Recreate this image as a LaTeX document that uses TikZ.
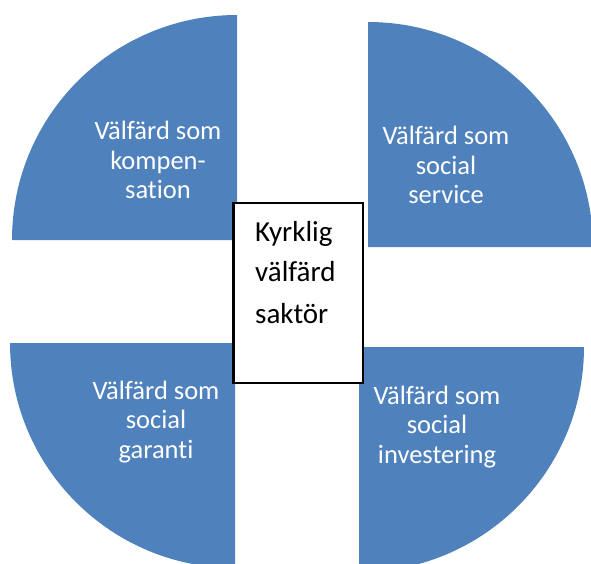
\documentclass[tikz,border=0pt]{standalone}
\usepackage{fontspec}
\setmainfont[Ligatures=NoCommon]{Carlito}
\definecolor{qblue}{HTML}{4F81BD}
\begin{document}
\begin{tikzpicture}[x=1pt,y=1pt,
  quad/.style={fill=qblue},
  qlabel/.style={text=white,align=center,anchor=base,inner sep=0pt,
    font=\fontsize{26.5}{29.5}\selectfont},
  clabel/.style={text=black,anchor=base west,inner sep=0pt,
    font=\fontsize{29}{41}\selectfont}]
\useasboundingbox (0,0) rectangle (591,563);
\clip (0,0) rectangle (591,563);
% quarter discs
\fill[quad] (237,323) -- (12,323) arc[start angle=180,end angle=90,radius=225] -- cycle;
\fill[quad] (368,316) -- (368,541) arc[start angle=90,end angle=0,radius=225] -- cycle;
\fill[quad] (235,220) -- (10,220) arc[start angle=180,end angle=270,radius=225] -- cycle;
\fill[quad] (359,216) -- (584,216) arc[start angle=0,end angle=-90,radius=225] -- cycle;
% labels (anchor = baseline of last line)
\node[qlabel] (tl) at (158,364) {Välfärd som\\kompen-\\sation};
\node[qlabel] (tr) at (446,359) {Välfärd som\\social\\service};
\node[qlabel] (bl) at (156,105) {Välfärd som\\social\\garanti};
\node[qlabel] (br) at (437,100) {Välfärd som\\social\\investering};
% centre box
\node[draw=black,line width=2.5pt,fill=white,minimum width=129.5pt,minimum height=180pt,inner sep=0pt] (box) at (298.25,270) {};
\node[clabel] (c1) at (255,322) {Kyrklig};
\node[clabel] (c2) at (255,282) {välfärd};
\node[clabel] (c3) at (255,240) {saktör};
\end{tikzpicture}
\end{document}
